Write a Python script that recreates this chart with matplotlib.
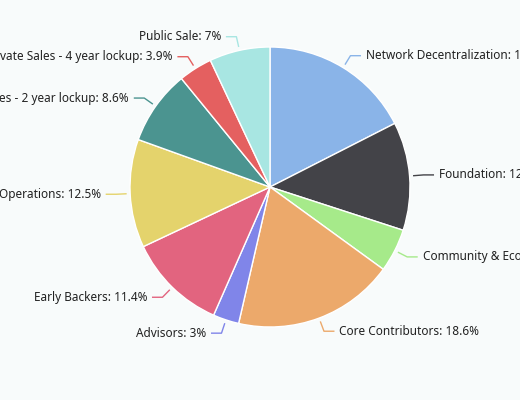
import matplotlib
matplotlib.use("Agg")
import matplotlib.pyplot as plt
import numpy as np

labels = ["Network Decentralization", "Foundation", "Community & Ecosystem", "Core Contributors",
          "Advisors", "Early Backers", "Operations", "Private Sales - 2 year lockup",
          "Private Sales - 4 year lockup", "Public Sale"]
values = [17.5, 12.5, 5, 18.6, 3, 11.4, 12.5, 8.6, 3.9, 7]
value_text = ["17.5", "12.5", "5", "18.6", "3", "11.4", "12.5", "8.6", "3.9", "7"]
colors = ["#8ab4e8", "#434348", "#a6ea8a", "#eca96b", "#8085e9", "#e2647f",
          "#e4d36c", "#4b9490", "#e46060", "#a8e6e2"]

bg = "#f8fbfb"
fig = plt.figure(figsize=(5.2, 4), dpi=100, facecolor=bg)
ax = fig.add_axes([0, 0, 1, 1])
ax.set_facecolor(bg)
R = 140.0

wedges, _ = ax.pie(values, colors=colors, startangle=90, counterclock=False,
                   wedgeprops=dict(edgecolor="white", linewidth=1), radius=1)
for w, lab, vt, c in zip(wedges, labels, value_text, colors):
    ang = np.deg2rad((w.theta1 + w.theta2) / 2)
    x, y = np.cos(ang), np.sin(ang)
    p0 = (1.03 * x, 1.03 * y)
    p1 = (1.1 * x, 1.1 * y)
    side = 1 if x >= 0 else -1
    p2 = (p1[0] + side * 0.07, p1[1])
    ax.plot([p0[0], p1[0], p2[0]], [p0[1], p1[1], p2[1]], color=c, lw=1)
    ax.text(p2[0] + side * 0.04, p2[1], f"{lab}: {vt}%", ha="left" if side > 0 else "right",
            va="center", fontsize=8.5, color="#222222", family="Noto Sans")

ax.set_xlim(-270 / R, 250 / R)
ax.set_ylim(-(400 - 187) / R, 187 / R)
ax.set_aspect("equal")
ax.axis("off")
fig.savefig("out.png", dpi=100, facecolor=bg)
